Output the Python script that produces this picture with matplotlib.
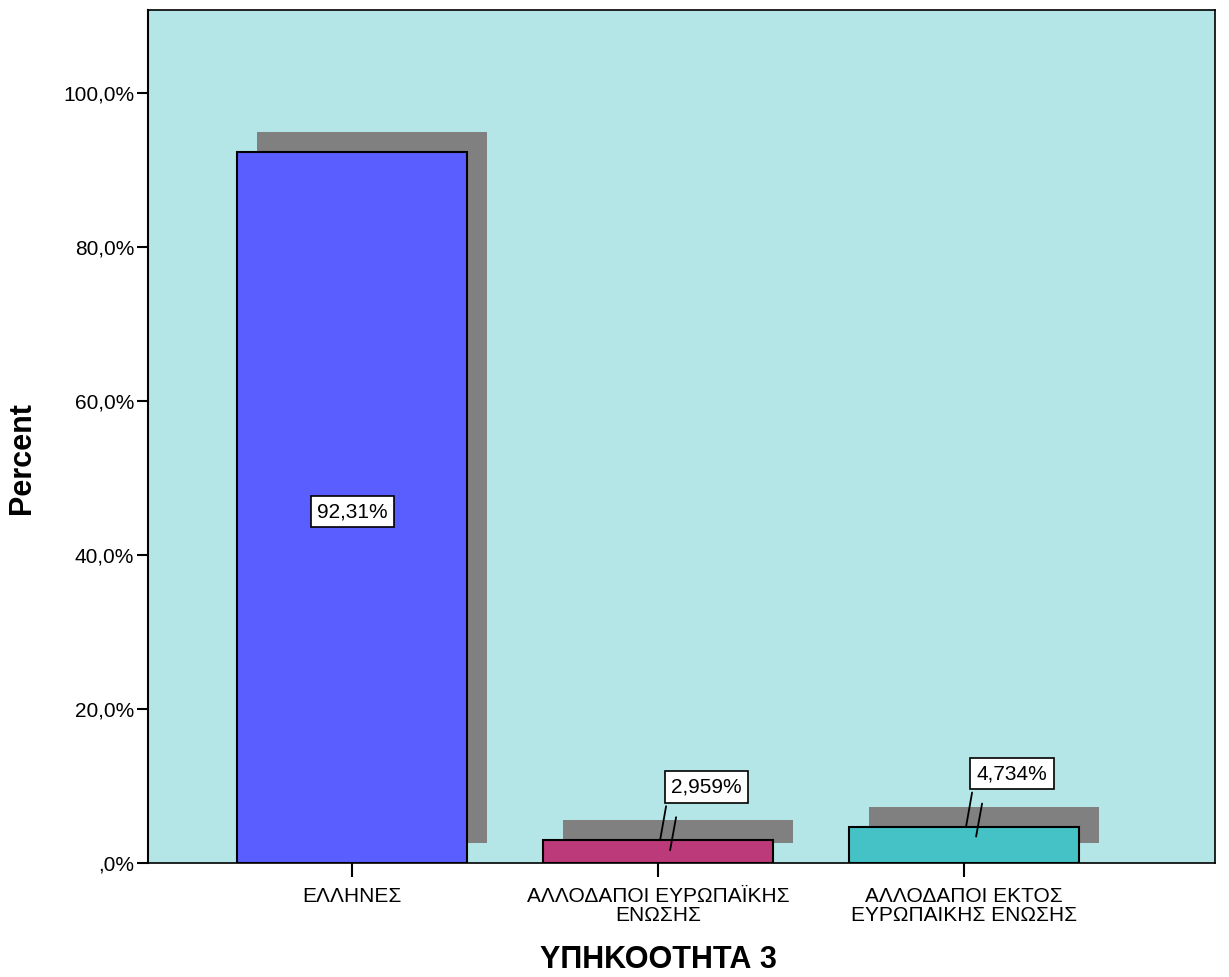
import matplotlib
matplotlib.use('Agg')
import matplotlib.pyplot as plt
import matplotlib.transforms as mtransforms
import numpy as np

plt.rcParams['font.family'] = ['Liberation Sans', 'DejaVu Sans']

categories = ['ΕΛΛΗΝΕΣ', 'ΑΛΛΟΔΑΠΟΙ ΕΥΡΩΠΑΪΚΗΣ\nΕΝΩΣΗΣ', 'ΑΛΛΟΔΑΠΟΙ ΕΚΤΟΣ\nΕΥΡΩΠΑΙΚΗΣ ΕΝΩΣΗΣ']
percent = [92.31, 2.959, 4.734]
labels = ['92,31%', '2,959%', '4,734%']
colors = ['#5B5EFF', '#BD3A7A', '#45C2C6']
yticks = [0, 20, 40, 60, 80, 100]

fig = plt.figure(figsize=(12.29, 9.77), dpi=100)
ax = fig.add_axes([148/1229, 1 - 863/977, (1215-148)/1229, (863-10)/977])
ax.set_facecolor('#B4E6E8')

x = np.arange(len(categories))
width = 0.75

# shadow: same bars shifted 20 px right and up
shadow_tr = mtransforms.offset_copy(ax.transData, fig=fig, x=20, y=20, units='dots')
ax.bar(x, percent, width=width, color='#808080', linewidth=0, transform=shadow_tr, zorder=1)
ax.bar(x, percent, width=width, color=colors, edgecolor='black', linewidth=1.5, zorder=2)

box = dict(boxstyle='square,pad=0.3', fc='white', ec='black', lw=1.2)
for i, (v, lab) in enumerate(zip(percent, labels)):
    if v > 20:
        ax.text(x[i], v / 2 - 0.5, lab, ha='center', va='center', fontsize=15, bbox=box, zorder=4)
    else:
        ax.annotate(lab, xy=(x[i], v), xytext=(48, 53), textcoords='offset pixels',
                    ha='center', va='center', fontsize=15, bbox=box, zorder=4)
        # broken leader line
        for (dx0, dy0, dx1, dy1) in [(8, 34, 2, 0), (18, 23, 12, -10)]:
            t0 = mtransforms.offset_copy(ax.transData, fig=fig, x=dx0, y=dy0, units='dots')
            t1 = mtransforms.offset_copy(ax.transData, fig=fig, x=dx1, y=dy1, units='dots')
            ax.annotate('', xy=(x[i], v), xycoords=t1, xytext=(x[i], v), textcoords=t0,
                        arrowprops=dict(arrowstyle='-', color='black', lw=1.3, shrinkA=0, shrinkB=0), zorder=5)

ax.set_xlim(-0.667, 2.82)
ax.set_ylim(0, 110.8)
ax.set_xticks(x)
ax.set_xticklabels(categories, fontsize=15, linespacing=1.0)
ax.set_yticks(yticks)
ax.set_yticklabels([(f'{t:.1f}'.replace('.', ',') if t else ',0') + '%' for t in yticks], fontsize=15)
ax.tick_params(axis='y', length=8, width=1.5, pad=2)
ax.tick_params(axis='x', length=10, width=1.5, pad=7)

for s in ax.spines.values():
    s.set_linewidth(1.2)
ax.spines['left'].set_linewidth(1.5)

ax.set_ylabel('Percent', fontsize=22, fontweight='bold')
ax.set_xlabel('ΥΠΗΚΟΟΤΗΤΑ 3', fontsize=22, fontweight='bold')
ax.yaxis.set_label_coords(-0.104, 0.475)
ax.xaxis.set_label_coords(0.478, -0.096)

fig.savefig('out.png', dpi=100)
